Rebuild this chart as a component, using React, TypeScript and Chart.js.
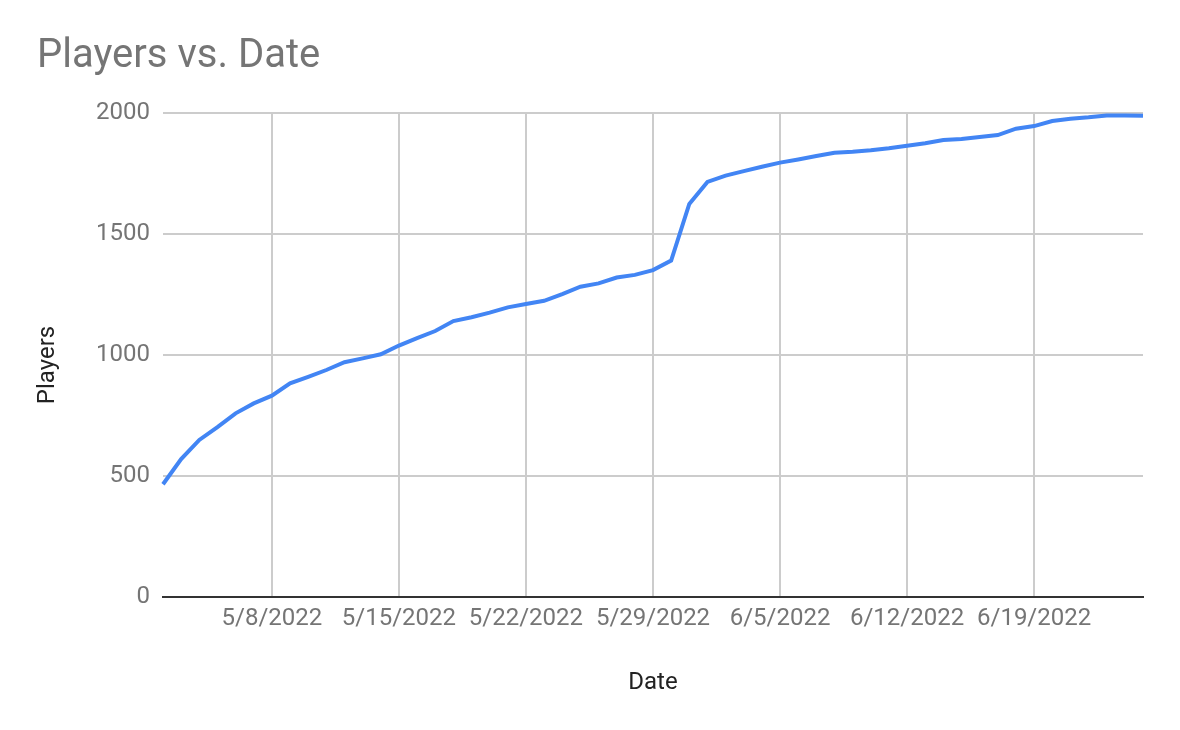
import React, { useEffect, useRef } from "react";
import { Chart, registerables } from "chart.js";

Chart.register(...registerables);

const dates = [
  "5/2/2022", "5/3/2022", "5/4/2022", "5/5/2022", "5/6/2022", "5/7/2022", "5/8/2022",
  "5/9/2022", "5/10/2022", "5/11/2022", "5/12/2022", "5/13/2022", "5/14/2022", "5/15/2022",
  "5/16/2022", "5/17/2022", "5/18/2022", "5/19/2022", "5/20/2022", "5/21/2022", "5/22/2022",
  "5/23/2022", "5/24/2022", "5/25/2022", "5/26/2022", "5/27/2022", "5/28/2022", "5/29/2022",
  "5/30/2022", "5/31/2022", "6/1/2022", "6/2/2022", "6/3/2022", "6/4/2022", "6/5/2022",
  "6/6/2022", "6/7/2022", "6/8/2022", "6/9/2022", "6/10/2022", "6/11/2022", "6/12/2022",
  "6/13/2022", "6/14/2022", "6/15/2022", "6/16/2022", "6/17/2022", "6/18/2022", "6/19/2022",
  "6/20/2022", "6/21/2022", "6/22/2022", "6/23/2022", "6/24/2022", "6/25/2022",
];

const players = [
  466, 570, 649, 702, 759, 800, 832,
  883, 910, 938, 970, 986, 1003, 1039,
  1070, 1099, 1140, 1156, 1175, 1197, 1211,
  1224, 1252, 1282, 1296, 1320, 1331, 1351,
  1390, 1624, 1715, 1741, 1760, 1778, 1795,
  1808, 1822, 1836, 1840, 1846, 1854, 1865,
  1875, 1888, 1893, 1901, 1909, 1935, 1946,
  1967, 1976, 1982, 1990, 1990, 1989,
];

const xTickLabels = ["5/8/2022", "5/15/2022", "5/22/2022", "5/29/2022", "6/5/2022", "6/12/2022", "6/19/2022"];
const yTickValues = [0, 500, 1000, 1500, 2000];

const FONT = "Roboto";

export default function App() {
  const ref = useRef<HTMLCanvasElement>(null);

  useEffect(() => {
    if (!ref.current) return;
    const yTitlePlugin = {
      id: "yTitleCustom",
      afterDraw(chart: any) {
        const ctx = chart.ctx;
        ctx.save();
        ctx.translate(48, 365);
        ctx.rotate(-Math.PI / 2);
        ctx.font = `24px ${FONT}`;
        ctx.fillStyle = "#222222";
        ctx.textAlign = "center";
        ctx.textBaseline = "middle";
        ctx.fillText("Players", 0, 0);
        ctx.restore();
      },
    };

    const chart = new Chart(ref.current, {
      type: "line",
      data: {
        labels: dates,
        datasets: [
          {
            label: "Players",
            data: players,
            borderColor: "#4285F4",
            backgroundColor: "#4285F4",
            borderWidth: 4,
            pointRadius: 0,
            tension: 0,
            fill: false,
          },
        ],
      },
      options: {
        responsive: false,
        animation: false,
        layout: { padding: { left: 37, right: 37, top: 0, bottom: 0 } },
        plugins: {
          legend: { display: false },
          tooltip: { enabled: false },
          title: {
            display: true,
            text: "Players vs. Date",
            align: "start",
            color: "#757575",
            font: { family: FONT, size: 40, weight: "normal" },
            padding: { top: 33, bottom: 32 },
          },
        },
        scales: {
          x: {
            type: "category",
            afterFit: (s: any) => {
              s.height = 133;
            },
            ticks: {
              autoSkip: false,
              maxRotation: 0,
              minRotation: 0,
              color: "#757575",
              font: { family: FONT, size: 24 },
              padding: 8,
              callback: (_v: any, i: number) => (xTickLabels.includes(dates[i]) ? dates[i] : ""),
            },
            grid: {
              drawTicks: false,
              lineWidth: 2,
              color: (ctx: any) =>
                xTickLabels.includes(dates[ctx.index]) ? "#cccccc" : "rgba(0,0,0,0)",
            },
            border: { display: true, color: "#333333", width: 2 },
            title: {
              display: true,
              text: "Date",
              color: "#222222",
              font: { family: FONT, size: 24 },
              padding: { top: 0, bottom: 33 },
            },
          },
          y: {
            min: 0,
            max: 2000,
            afterBuildTicks: (s: any) => {
              s.ticks = yTickValues.map((v) => ({ value: v }));
            },
            afterFit: (s: any) => {
              s.width = 126;
            },
            ticks: {
              color: "#757575",
              font: { family: FONT, size: 24 },
              padding: 13,
              callback: (v: any) => String(v),
            },
            grid: {
              drawTicks: false,
              lineWidth: 2,
              color: "#cccccc",
            },
            border: { display: false },
          },
        },
      },
      plugins: [yTitlePlugin],
    } as any);

    return () => chart.destroy();
  }, []);

  return (
    <div style={{ position: "absolute", left: 0, top: 0, width: 1180, height: 730, background: "#ffffff" }}>
      <canvas ref={ref} width={1180} height={730} style={{ display: "block", width: 1180, height: 730 }} />
    </div>
  );
}
